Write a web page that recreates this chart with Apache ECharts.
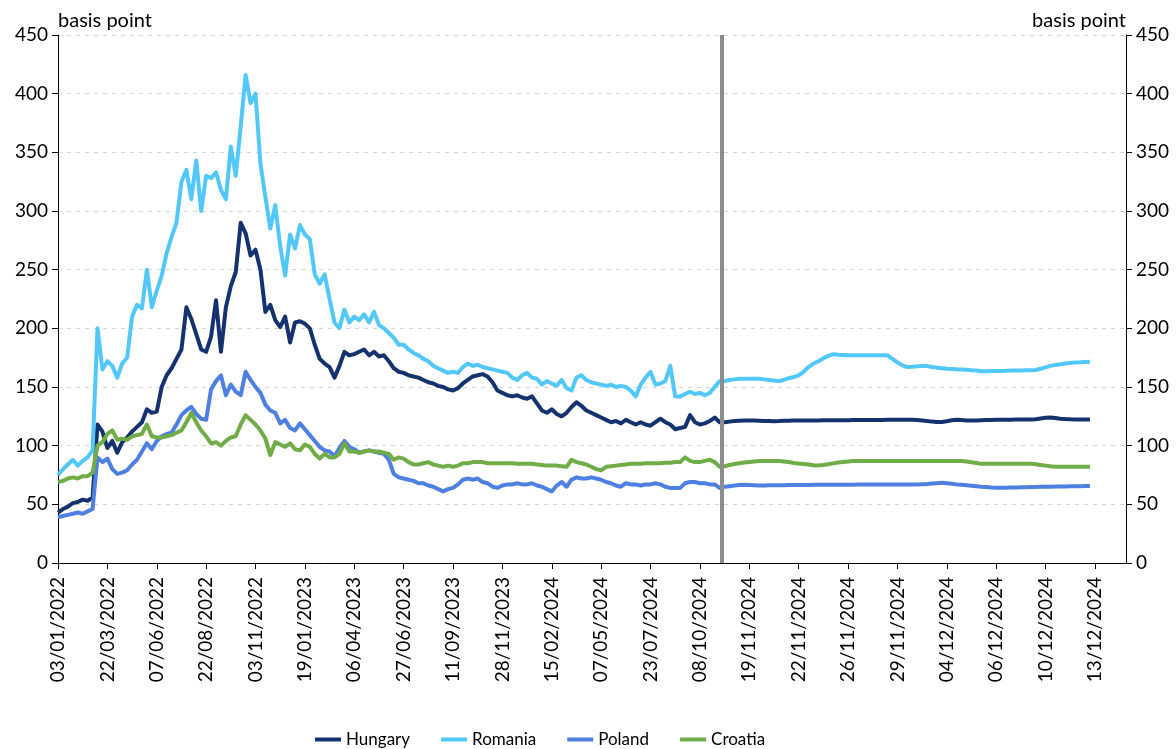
<!DOCTYPE html>
<html><head><meta charset="utf-8">
<script src="https://cdn.jsdelivr.net/npm/echarts@6/dist/echarts.min.js"></script>
<style>html,body{margin:0;padding:0;background:#fff}#c{width:1176px;height:749px}</style>
</head><body><div id="c"></div>
<script>
// x-axis tick labels, one every 10 data steps
const tickLabels = ["03/01/2022","22/03/2022","07/06/2022","22/08/2022","03/11/2022","19/01/2023","06/04/2023","27/06/2023","11/09/2023","28/11/2023","15/02/2024","07/05/2024","23/07/2024","08/10/2024","19/11/2024","22/11/2024","26/11/2024","29/11/2024","04/12/2024","06/12/2024","10/12/2024","13/12/2024"];
const seriesNames = ["Hungary","Romania","Poland","Croatia"];
const breakPosition = 134.5; // vertical separator (in data steps)

const hungary = [
43,46,48,51,52,54,53,56,118,112,
98,104,94,103,107,112,116,120,131,128,
129,150,160,166,174,182,218,208,195,182,
180,193,224,180,218,236,248,290,281,262,
267,250,214,220,207,201,210,188,205,206,
204,200,186,174,170,167,158,168,180,177,
178,180,182,177,180,176,177,172,166,163,
162,160,159,158,156,154,153,151,150,148,
147,149,153,156,159,160,161,159,154,147,
145,143,142,143,141,140,142,136,130,128,
131,127,125,128,133,137,134,130,128,126,
124,122,120,121,119,122,120,118,120,118,
117,120,123,120,118,114,115,116,126,120,
118,119,121,124,120,120,120.5,121,121.3,121.5,
121.5,121.4,121.3,121.1,121,120.9,121,121.2,121.3,121.4,
121.5,121.5,121.5,121.5,121.5,121.6,121.6,121.6,121.6,121.7,
121.7,121.8,121.8,121.8,121.8,121.9,121.9,121.9,122,122,
122,122,122,122,121.8,121.4,121,120.5,120.2,120.1,
120.8,121.6,122,121.8,121.5,121.4,121.5,121.7,121.8,121.9,
122,122,122.1,122.1,122.2,122.2,122.3,122.4,122.6,123.2,
123.8,124,123.6,123,122.7,122.5,122.4,122.4,122.4,122.4
];
const romania = [
75,80,84,88,83,87,90,96,200,165,
172,168,158,170,175,210,220,217,250,218,
232,245,264,278,290,325,335,310,343,300,
330,328,333,318,310,355,330,372,416,392,
400,340,312,285,305,270,245,280,268,288,
280,276,246,238,246,225,205,200,216,205,
210,207,212,205,214,203,200,196,192,186,
186,182,179,177,174,172,168,166,164,162,
163,162,167,170,168,169,167,166,165,164,
163,162,158,156,160,162,158,157,152,155,
153,151,156,149,147,158,160,156,154,153,
152,151,152,150,151,150,147,142,152,158,
163,152,153,155,168,142,142,144,146,144,
145,143,145,150,155,155,156,156.5,157,157,
157,157,157,156.5,156,155.5,155,156,157.5,158.5,
160,163,167,170,172,174.5,176.5,178,177.5,177.3,
177,177,177,177,177,177,177,177,177,174,
171,168.5,167,167.3,167.6,168,167.8,167,166.5,166,
165.5,165.3,165.1,165,164.7,164.3,164,163.5,163.5,163.6,
163.6,163.7,163.8,164,164,164.1,164.2,164.3,164.5,165.5,
166.8,168,168.7,169.3,170,170.5,170.8,171,171.3,171.5
];
const poland = [
39,40,41,42,43,42,44,46,90,86,
89,80,76,77,79,84,88,95,102,97,
104,108,110,111,118,126,130,133,127,123,
122,148,155,160,143,152,146,143,163,156,
150,145,135,130,128,119,122,115,113,119,
114,109,104,99,96,95,91,98,104,99,
97,94,95,96,95,94,93,88,76,73,
72,71,70,68,68,66,65,63,61,63,
64,67,71,72,71,72,69,68,65,64,
66,67,67,68,67,67,68,66,65,63,
61,66,69,65,71,73,72,72,73,72,
71,69,68,66,65,68,67,67,66,67,
67,68,67,65,64,64,64,68,69,69,
68,68,67,67,64,65,65.5,66,66.5,66.7,
66.5,66.3,66,66,66.2,66.3,66.3,66.3,66.4,66.5,
66.5,66.5,66.5,66.6,66.6,66.6,66.6,66.6,66.6,66.6,
66.6,66.7,66.8,66.8,66.8,66.9,66.9,67,67,67,
67,67,67,67,67,67.2,67.4,67.7,68,68.3,
68,67.5,67,66.6,66.2,65.8,65.4,65,64.7,64.4,
64.2,64.1,64.2,64.3,64.4,64.5,64.6,64.7,64.8,64.9,
65,65,65.1,65.2,65.3,65.4,65.5,65.5,65.6,65.6
];
const croatia = [
69,70,72,73,72,74,74,77,100,103,
110,113,105,106,105,108,109,110,118,108,
107,107,108,109,111,113,120,128,120,113,
108,102,103,100,104,107,108,118,126,122,
118,113,106,92,103,101,99,102,97,96,
101,99,93,89,93,90,90,93,102,95,
95,94,95,96,95,95,94,93,88,90,
89,86,84,84,85,86,84,83,82,83,
82,83,85,85,86,86,86,85,85,85,
85,85,85,84.5,84.5,84.5,84.5,84,83.5,83,
83,83,82.5,82,88,86,85,84,82,80,
79,82,82.5,83,83.5,84,84.5,84.5,84.5,85,
85,85,85,85.5,85.5,86,86,90,87,86,
86,87,88,86,82,82.5,83.5,84.3,85,85.6,
86.1,86.6,87,87,87,87,87,86.5,86,85.3,
84.8,84.4,83.9,83.3,83.2,83.6,84.2,84.9,85.6,86.1,
86.6,87,87,87,87,87,87,87,87,87,
87,87,87,87,87,87,87,87,87,87,
87,87,87,87,86.5,85.8,85.2,84.5,84.5,84.5,
84.5,84.5,84.5,84.5,84.5,84.5,84.5,84.5,84.2,83.6,
83,82.4,82,82,82,82,82,82,82,82
];

const colors = ["#14336e","#52c8fa","#4d80e1","#70ad47"];
const FONT = "Lato";
const values = [hungary, romania, poland, croatia];
const tickPos = tickLabels.map((_, k) => k * 10);

const chart = echarts.init(document.getElementById('c'), null, {renderer: 'canvas'});
const axisText = {fontFamily: FONT, fontSize: 19, color: '#000'};
const nameText = {fontFamily: FONT, fontSize: 20, color: '#000'};

const series = seriesNames.map((name, k) => {
  const s = {
    name, type: 'line', data: values[k].map((v, i) => [i, v]),
    showSymbol: false, symbol: 'none', sampling: null,
    lineStyle: {color: colors[k], width: 4, join: 'round'},
    itemStyle: {color: colors[k]},
    emphasis: {disabled: true}
  };
  if (k === seriesNames.length - 1) {
    s.markLine = {
      silent: true, symbol: ['none','none'], label: {show: false},
      lineStyle: {color: '#8c8c8c', width: 4, type: 'solid'},
      emphasis: {disabled: true},
      data: [{xAxis: breakPosition}]
    };
  }
  return s;
});

chart.setOption({
  animation: false,
  backgroundColor: '#fff',
  grid: {left: 58, right: 50, top: 35, bottom: 186, containLabel: false},
  legend: {
    data: seriesNames, left: 315, top: 731, padding: 0, icon: 'rect', itemWidth: 26, itemHeight: 4,
    itemGap: 31, textStyle: {fontFamily: FONT, fontSize: 17, color: '#000'}
  },
  xAxis: {
    type: 'value', min: 0, max: 216.3, interval: 10,
    axisLine: {show: true, onZero: false, lineStyle: {color: '#000', width: 1}},
    axisTick: {show: true, length: 6, inside: false, customValues: tickPos, lineStyle: {color: '#000'}},
    axisLabel: Object.assign({customValues: tickPos, rotate: 90, margin: 14,
      formatter: v => (v % 10 === 0 && tickLabels[v / 10]) ? tickLabels[v / 10] : ''}, axisText),
    splitLine: {show: false}
  },
  yAxis: [
    {type: 'value', min: 0, max: 450, interval: 50, position: 'left',
     name: 'basis point', nameLocation: 'end', nameGap: 4,
     nameTextStyle: Object.assign({align: 'left', verticalAlign: 'bottom'}, nameText),
     axisLine: {show: true, lineStyle: {color: '#000', width: 1}},
     axisTick: {show: true, length: 6, lineStyle: {color: '#000'}},
     axisLabel: Object.assign({margin: 10}, axisText),
     splitLine: {show: true, lineStyle: {color: '#d4d4d4', type: [4, 5], width: 1}}},
    {type: 'value', min: 0, max: 450, interval: 50, position: 'right',
     name: 'basis point', nameLocation: 'end', nameGap: 4,
     nameTextStyle: Object.assign({align: 'right', verticalAlign: 'bottom'}, nameText),
     axisLine: {show: true, lineStyle: {color: '#000', width: 1}},
     axisTick: {show: true, length: 6, lineStyle: {color: '#000'}},
     axisLabel: Object.assign({margin: 10}, axisText),
     splitLine: {show: false}}
  ],
  series
});
</script></body></html>
